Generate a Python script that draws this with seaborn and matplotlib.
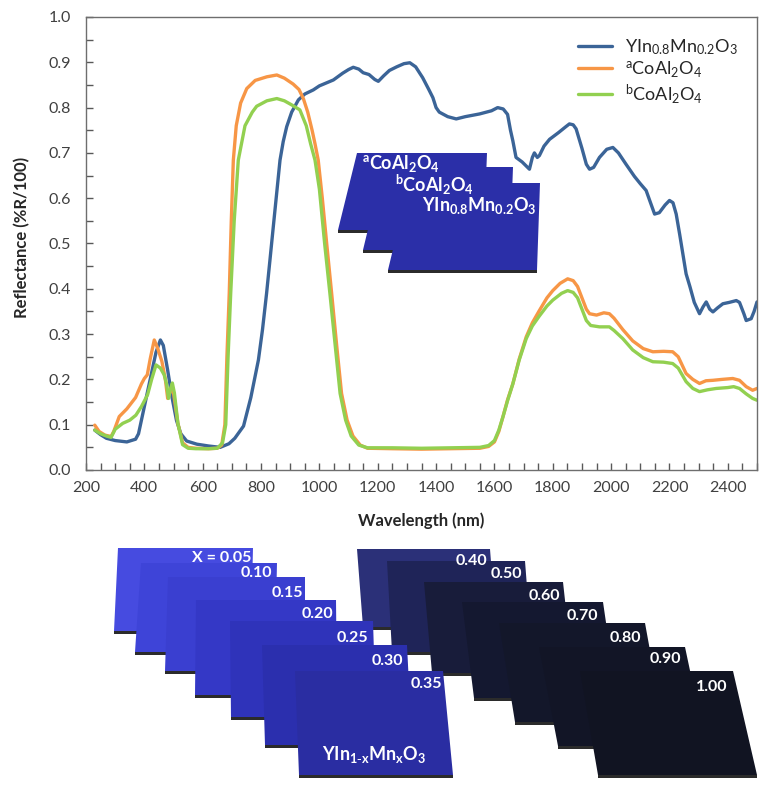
import numpy as np
import pandas as pd
import seaborn as sns
import matplotlib.pyplot as plt
from matplotlib.patches import Polygon
from matplotlib.ticker import MultipleLocator, FormatStrFormatter

# --- spectra (wavelength nm, reflectance) ---
wl_mn = [230, 250, 270, 300, 340, 370, 380, 400, 420, 440, 455, 465, 480, 495, 510,
         525, 545, 580, 620, 660, 690, 710, 740, 765, 791, 805, 819, 830, 842, 855,
         865, 876, 888, 905, 928, 950, 979, 1000, 1048, 1080, 1100, 1116, 1135, 1150,
         1170, 1190, 1202, 1220, 1240, 1265, 1290, 1310, 1330, 1354, 1375, 1389, 1400,
         1411, 1440, 1469, 1500, 1549, 1590, 1611, 1630, 1645, 1655, 1663, 1674, 1695,
         1720, 1730, 1737, 1747, 1754, 1770, 1789, 1820, 1845, 1857, 1870, 1880, 1900,
         1915, 1926, 1940, 1960, 1985, 2006, 2025, 2051, 2080, 2100, 2120, 2135, 2149,
         2165, 2185, 2200, 2212, 2223, 2235, 2257, 2270, 2285, 2303, 2315, 2326, 2338,
         2349, 2365, 2383, 2405, 2429, 2440, 2446, 2455, 2463, 2480, 2490, 2500]
r_mn = [0.088, 0.078, 0.070, 0.065, 0.062, 0.068, 0.080, 0.140, 0.200, 0.260, 0.287,
        0.275, 0.220, 0.160, 0.110, 0.080, 0.064, 0.057, 0.053, 0.050, 0.058, 0.070,
        0.097, 0.160, 0.243, 0.310, 0.390, 0.460, 0.537, 0.620, 0.684, 0.725, 0.758,
        0.790, 0.817, 0.830, 0.839, 0.848, 0.861, 0.876, 0.884, 0.889, 0.885, 0.877,
        0.873, 0.862, 0.858, 0.870, 0.882, 0.890, 0.897, 0.899, 0.890, 0.866, 0.840,
        0.822, 0.800, 0.790, 0.780, 0.775, 0.780, 0.786, 0.793, 0.800, 0.797, 0.785,
        0.750, 0.727, 0.690, 0.680, 0.664, 0.690, 0.700, 0.690, 0.694, 0.715, 0.730,
        0.745, 0.758, 0.764, 0.762, 0.753, 0.710, 0.675, 0.664, 0.668, 0.690, 0.708,
        0.712, 0.700, 0.675, 0.648, 0.632, 0.617, 0.590, 0.565, 0.568, 0.585, 0.595,
        0.590, 0.565, 0.520, 0.433, 0.405, 0.370, 0.345, 0.360, 0.371, 0.355, 0.349,
        0.358, 0.367, 0.370, 0.374, 0.370, 0.360, 0.345, 0.330, 0.334, 0.350, 0.371]

wl_a = [230, 245, 265, 286, 295, 314, 340, 370, 390, 400, 410, 420, 434, 445, 460,
        472, 480, 487, 494, 500, 515, 531, 550, 577, 620, 650, 665, 676, 683, 691,
        698, 705, 715, 730, 751, 780, 820, 854, 880, 910, 930, 945, 960, 975, 985,
        996, 1010, 1025, 1042, 1060, 1076, 1095, 1115, 1140, 1165, 1250, 1350, 1450,
        1550, 1580, 1600, 1615, 1629, 1645, 1663, 1685, 1709, 1730, 1754, 1780, 1800,
        1825, 1851, 1870, 1885, 1900, 1915, 1926, 1950, 1975, 1994, 2010, 2040, 2074,
        2110, 2143, 2180, 2211, 2230, 2257, 2280, 2303, 2325, 2349, 2380, 2417, 2440,
        2463, 2485, 2500]
r_a = [0.099, 0.085, 0.077, 0.074, 0.085, 0.118, 0.135, 0.160, 0.190, 0.202, 0.210,
       0.245, 0.287, 0.270, 0.240, 0.200, 0.158, 0.170, 0.185, 0.170, 0.103, 0.060,
       0.050, 0.048, 0.047, 0.048, 0.055, 0.100, 0.250, 0.390, 0.550, 0.684, 0.760,
       0.810, 0.842, 0.860, 0.868, 0.872, 0.865, 0.852, 0.840, 0.820, 0.790, 0.750,
       0.720, 0.684, 0.600, 0.500, 0.390, 0.270, 0.169, 0.110, 0.075, 0.055, 0.048,
       0.047, 0.046, 0.047, 0.048, 0.052, 0.062, 0.085, 0.117, 0.155, 0.190, 0.245,
       0.294, 0.325, 0.352, 0.380, 0.396, 0.412, 0.422, 0.418, 0.405, 0.380, 0.355,
       0.345, 0.342, 0.347, 0.345, 0.335, 0.310, 0.285, 0.268, 0.261, 0.262, 0.261,
       0.250, 0.213, 0.200, 0.191, 0.197, 0.198, 0.200, 0.202, 0.198, 0.184, 0.176,
       0.180]

wl_b = [230, 250, 270, 286, 300, 326, 350, 371, 390, 411, 425, 440, 455, 468, 476,
        483, 490, 496, 503, 515, 531, 550, 577, 620, 650, 668, 679, 687, 696, 708,
        722, 745, 770, 785, 820, 854, 880, 905, 933, 955, 970, 985, 1000, 1018, 1036,
        1055, 1071, 1090, 1109, 1135, 1165, 1250, 1350, 1450, 1550, 1580, 1600, 1615,
        1629, 1645, 1663, 1685, 1709, 1730, 1754, 1780, 1800, 1830, 1851, 1870, 1885,
        1900, 1915, 1930, 1960, 1994, 2010, 2040, 2074, 2110, 2143, 2180, 2211, 2230,
        2257, 2280, 2303, 2330, 2360, 2400, 2420, 2440, 2463, 2485, 2500]
r_b = [0.088, 0.080, 0.075, 0.072, 0.090, 0.103, 0.110, 0.121, 0.140, 0.166, 0.200,
       0.232, 0.225, 0.210, 0.190, 0.158, 0.180, 0.192, 0.170, 0.103, 0.056, 0.048,
       0.047, 0.047, 0.048, 0.060, 0.100, 0.250, 0.390, 0.550, 0.684, 0.760, 0.790,
       0.803, 0.815, 0.820, 0.815, 0.806, 0.795, 0.760, 0.720, 0.684, 0.620, 0.500,
       0.390, 0.270, 0.169, 0.110, 0.075, 0.055, 0.049, 0.049, 0.048, 0.049, 0.050,
       0.054, 0.065, 0.088, 0.117, 0.153, 0.190, 0.243, 0.290, 0.318, 0.340, 0.362,
       0.375, 0.390, 0.396, 0.392, 0.380, 0.355, 0.330, 0.319, 0.316, 0.316, 0.308,
       0.290, 0.265, 0.248, 0.239, 0.238, 0.235, 0.225, 0.195, 0.180, 0.173, 0.177,
       0.180, 0.182, 0.184, 0.180, 0.168, 0.158, 0.154]

names = ['YIn$_{0.8}$Mn$_{0.2}$O$_3$', '$^{a}$CoAl$_2$O$_4$', '$^{b}$CoAl$_2$O$_4$']
colors = ['#3B6497', '#F79646', '#92D050']

# sample photo stand-ins (compositions shown on each plate)
x_left = ['X = 0.05', '0.10', '0.15', '0.20', '0.25', '0.30', '0.35']
x_right = ['0.40', '0.50', '0.60', '0.70', '0.80', '0.90', '1.00']
inset_names = names[1:] + names[:1]

df = pd.concat([
    pd.DataFrame({'wl': wl_mn, 'R': r_mn, 'sample': names[0]}),
    pd.DataFrame({'wl': wl_a, 'R': r_a, 'sample': names[1]}),
    pd.DataFrame({'wl': wl_b, 'R': r_b, 'sample': names[2]}),
])

sns.set_style('ticks')
plt.rcParams['font.family'] = ['Lato', 'DejaVu Sans']
plt.rcParams['mathtext.default'] = 'regular'

W, H = 783, 788
fig = plt.figure(figsize=(W / 100, H / 100), dpi=100)
ax = fig.add_axes([86 / W, 1 - 470 / H, 671 / W, 453 / H])

sns.lineplot(data=df, x='wl', y='R', hue='sample', hue_order=names,
             palette=colors, estimator=None, sort=False, lw=2.4, ax=ax)

ax.set_xlim(200, 2500)
ax.set_ylim(0, 1.0)
ax.xaxis.set_major_locator(MultipleLocator(200))
ax.xaxis.set_minor_locator(MultipleLocator(50))
ax.yaxis.set_major_locator(MultipleLocator(0.1))
ax.yaxis.set_minor_locator(MultipleLocator(0.05))
ax.yaxis.set_major_formatter(FormatStrFormatter('%.1f'))
ax.tick_params(which='both', direction='in', length=5, width=1, color='#595959',
               labelcolor='#404040', labelsize=11.5)
ax.tick_params(axis='x', pad=8)
ax.tick_params(axis='y', pad=11)
for s in ax.spines.values():
    s.set_color('#6e6e6e')
    s.set_linewidth(1)

ax.set_xlabel('Wavelength (nm)', fontsize=12, fontweight='bold', va='center')
ax.set_ylabel('Reflectance (%R/100)', fontsize=12, fontweight='bold', va='center')
ax.xaxis.set_label_coords(0.5, (470 - 521) / 453)
ax.yaxis.set_label_coords((22 - 86) / 671, (470 - 237) / 453)

h, l = ax.get_legend_handles_labels()
ax.legend(h, l, loc='upper left', bbox_to_anchor=(0.733, 0.955), frameon=False,
          fontsize=13, handlelength=1.9, handletextpad=0.7, labelspacing=0.12,
          borderpad=0, borderaxespad=0, labelcolor='#262626')

# overlay in pixel coordinates for the sample photographs
ov = fig.add_axes([0, 0, 1, 1], zorder=5)
ov.set_xlim(0, W)
ov.set_ylim(H, 0)
ov.axis('off')
ov.patch.set_alpha(0)


def plate(tlx, top, trx, bot, dl, dr, color):
    ov.add_patch(Polygon([(tlx, top), (trx, top), (trx + dr, bot), (tlx + dl, bot)],
                         closed=True, fc=color, ec='none'))
    ov.add_patch(Polygon([(tlx + dl, bot), (trx + dr, bot), (trx + dr, bot + 2.5),
                          (tlx + dl, bot + 2.5)], closed=True, fc='#2b2b2b', ec='none'))


# inset: three plates
inset_geom = [(357, 153, 487, 230, -19, -3), (383, 167, 513, 250, -20, -3),
              (409, 183, 540, 270, -21, -3)]
inset_txt = [(362, 163), (395, 185), (422, 205)]
for g in inset_geom:
    plate(*g, '#2B2FA8')
for t, name in zip(inset_txt, inset_names):
    ov.text(t[0], t[1], name, color='white', fontsize=13, fontweight='bold',
            ha='left', va='center')

# bottom photograph: right group drawn first (behind)
right_geom = [(357, 549, 490, 627, 6, 6), (387, 561, 525, 652, 5, 7),
              (424, 582, 563, 673, 8, 10), (462, 602, 603, 698, 12, 14),
              (499, 623, 645, 722, 16, 18), (539, 647, 685, 746, 19, 21),
              (580, 671, 733, 775, 18, 24)]
right_cols = ['#2B3078', '#1F2458', '#181C3A', '#141830', '#13172A', '#121526', '#111422']
right_lab = [(487, 565), (522, 578), (560, 600), (598, 620), (641, 642), (681, 663),
             (727, 691)]
left_geom = [(118, 548, 253, 631, -4, -2), (141, 563, 277, 652, -6, -2),
             (168, 577, 305, 671, -3, 0), (196, 600, 336, 695, -1, 1),
             (230, 621, 373, 717, 1, 3), (262, 645, 407, 745, 3, 5),
             (295, 671, 443, 775, 4, 10)]
left_cols = ['#464BE0', '#3E44D8', '#3A3FD0', '#3438C6', '#2F33BA', '#2B2FAE', '#2A2DA2']
left_lab = [(251, 562), (272, 577), (303, 597), (333, 618), (368, 642), (403, 665),
            (442, 688)]

groups = [(x_right, right_geom, right_cols, right_lab),
          (x_left, left_geom, left_cols, left_lab)]
for labs, geoms, cols, pos in groups:
    for g, c in zip(geoms, cols):
        plate(*g, c)
# composition labels on top of all plates
for labs, geoms, cols, pos in groups:
    for lab, p in zip(labs, pos):
        ov.text(p[0], p[1], lab, color='white', fontsize=11.5, fontweight='bold',
                ha='right', va='baseline')

ov.text(374, 760, r'YIn$_{1\text{-}x}$Mn$_x$O$_3$', color='white', fontsize=13,
        fontweight='bold', ha='center', va='baseline')

fig.savefig('out.png', dpi=100)
